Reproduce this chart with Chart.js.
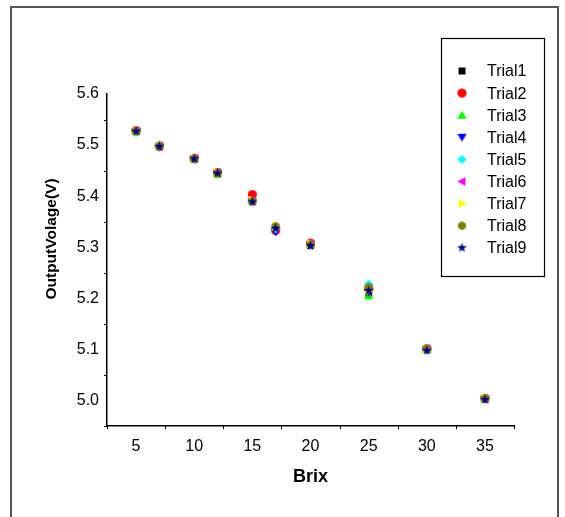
<!DOCTYPE html>
<html><head><meta charset="utf-8">
<script src="https://cdn.jsdelivr.net/npm/chart.js@4/dist/chart.umd.min.js"></script>
<style>html,body{margin:0;padding:0;background:#fff}#wrap{width:565px;height:517px}</style>
</head><body><div id="wrap"><canvas id="c" width="565" height="517"></canvas></div>
<script>
const brix = [5, 7, 10, 12, 15, 17, 20, 25, 30, 35];
const trial1 = [5.527, 5.497, 5.473, 5.445, 5.390, 5.336, 5.304, 5.210, 5.100, 5.003];
const trial2 = [5.528, 5.498, 5.474, 5.446, 5.403, 5.333, 5.308, 5.218, 5.101, 5.004];
const trial3 = [5.528, 5.501, 5.474, 5.443, 5.391, 5.340, 5.306, 5.205, 5.100, 5.005];
const trial4 = [5.526, 5.496, 5.472, 5.444, 5.389, 5.330, 5.304, 5.212, 5.098, 5.002];
const trial5 = [5.525, 5.499, 5.473, 5.445, 5.390, 5.336, 5.305, 5.228, 5.100, 5.004];
const trial6 = [5.528, 5.498, 5.474, 5.446, 5.391, 5.338, 5.306, 5.220, 5.101, 5.003];
const trial7 = [5.527, 5.497, 5.473, 5.445, 5.392, 5.342, 5.307, 5.215, 5.100, 5.005];
const trial8 = [5.527, 5.498, 5.473, 5.445, 5.390, 5.341, 5.305, 5.222, 5.101, 5.004];
const trial9 = [5.527, 5.497, 5.473, 5.445, 5.389, 5.337, 5.303, 5.215, 5.098, 5.002];
const seriesNames = ['Trial1','Trial2','Trial3','Trial4','Trial5','Trial6','Trial7','Trial8','Trial9'];
const seriesValues = [trial1, trial2, trial3, trial4, trial5, trial6, trial7, trial8, trial9];
const seriesColors = ['#000000','#ff0000','#00ff00','#0000ff','#00ffff','#ff00ff','#ffff00','#808000','#000080'];
const seriesShapes = ['square','circle','up','down','diamond','left','right','hexagon','star'];
const xTicks = [5, 10, 15, 20, 25, 30, 35];
const yTicks = [5.0, 5.1, 5.2, 5.3, 5.4, 5.5, 5.6];
const xTitle = 'Brix';
const yTitle = 'OutputVolage(V)';
const FONT = '"Liberation Sans", Arial, sans-serif';

function makeMarker(shape, color) {
  const s = 11, c = document.createElement('canvas');
  c.width = s; c.height = s;
  const g = c.getContext('2d'); const m = s / 2; const r = 4.6;
  g.fillStyle = color; g.beginPath();
  if (shape === 'square') { g.rect(m - 3.5, m - 3.5, 7, 7); }
  else if (shape === 'circle') { g.arc(m, m, r, 0, Math.PI * 2); }
  else if (shape === 'up') { g.moveTo(m, m - r); g.lineTo(m + r, m + r * 0.75); g.lineTo(m - r, m + r * 0.75); }
  else if (shape === 'down') { g.moveTo(m, m + r); g.lineTo(m + r, m - r * 0.75); g.lineTo(m - r, m - r * 0.75); }
  else if (shape === 'left') { g.moveTo(m - r, m); g.lineTo(m + r * 0.75, m - r); g.lineTo(m + r * 0.75, m + r); }
  else if (shape === 'right') { g.moveTo(m + r, m); g.lineTo(m - r * 0.75, m - r); g.lineTo(m - r * 0.75, m + r); }
  else if (shape === 'diamond') { g.moveTo(m, m - r); g.lineTo(m + r, m); g.lineTo(m, m + r); g.lineTo(m - r, m); }
  else if (shape === 'hexagon') { for (let k = 0; k < 6; k++) { const a = Math.PI / 6 + k * Math.PI / 3; g.lineTo(m + r * Math.cos(a), m + r * Math.sin(a)); } }
  else if (shape === 'star') { for (let k = 0; k < 10; k++) { const a = -Math.PI / 2 + k * Math.PI / 5; const rr = k % 2 ? r * 0.45 : r + 0.5; g.lineTo(m + rr * Math.cos(a), m + rr * Math.sin(a)); } }
  g.closePath(); g.fill();
  return c;
}
const markers = seriesShapes.map((s, i) => makeMarker(s, seriesColors[i]));

const datasets = seriesNames.map((name, i) => ({
  label: name,
  data: brix.map((x, j) => ({ x: x, y: seriesValues[i][j] })),
  pointStyle: markers[i],
  pointRadius: 5,
  showLine: false,
  order: seriesNames.length - i
}));

const decor = {
  id: 'decor',
  beforeDraw(chart) {
    const g = chart.ctx;
    g.save(); g.fillStyle = '#fff'; g.fillRect(0, 0, chart.width, chart.height);
    g.strokeStyle = '#555'; g.lineWidth = 2;
    g.strokeRect(11, 7, 547, 530);
    g.restore();
  },
  afterDraw(chart) {
    const g = chart.ctx, xs = chart.scales.x, ys = chart.scales.y;
    const ca = chart.chartArea;
    g.save(); g.strokeStyle = '#000'; g.lineWidth = 1;
    g.beginPath();
    for (let v = 2.5; v <= 37.51; v += 5) { const px = Math.round(xs.getPixelForValue(v)) + 0.5; g.moveTo(px, ca.bottom); g.lineTo(px, ca.bottom + 3); }
    for (let v = 4.95; v <= 5.56; v += 0.1) { const py = Math.round(ys.getPixelForValue(v)) + 0.5; g.moveTo(ca.left, py); g.lineTo(ca.left - 3, py); }
    g.stroke();
    // y axis title
    g.save();
    g.translate(52, 239); g.rotate(-Math.PI / 2);
    g.font = 'bold 15.5px ' + FONT; g.fillStyle = '#000';
    g.textAlign = 'center'; g.textBaseline = 'middle';
    g.fillText(yTitle, 0, 0);
    g.restore();
    // legend
    const lx = 441, ly = 38, lw = 103, lh = 238;
    g.strokeStyle = '#000'; g.lineWidth = 1.2;
    g.strokeRect(lx + 0.5, ly + 0.5, lw, lh);
    g.font = '16px ' + FONT;
    g.fillStyle = '#000'; g.textBaseline = 'middle'; g.textAlign = 'left';
    chart.data.datasets.forEach((d, i) => {
      const y = 71 + i * 22.1;
      g.drawImage(d.pointStyle, 462 - 5.5, y - 5.5);
      g.fillText(d.label, 487, y + 1);
    });
    g.restore();
  }
};

new Chart(document.getElementById('c'), {
  type: 'scatter',
  data: { datasets: datasets },
  options: {
    responsive: false, animation: false, devicePixelRatio: 1,
    layout: { padding: { top: 94, right: 51, left: 0, bottom: 0 } },
    plugins: { legend: { display: false }, tooltip: { enabled: false } },
    scales: {
      x: {
        type: 'linear', min: 2.5, max: 37.5,
        afterBuildTicks: s => { s.ticks = xTicks.map(v => ({ value: v })); },
        afterFit: s => { s.height = 91; },
        grid: { display: false, drawOnChartArea: false, drawTicks: true, tickLength: 5, tickColor: '#000' },
        border: { display: true, color: '#000', width: 1.5 },
        ticks: { color: '#000', font: { size: 16, family: FONT }, padding: 6, maxRotation: 0 },
        title: { display: true, text: xTitle, color: '#000', font: { size: 18, weight: 'bold', family: FONT }, padding: { top: 0, bottom: 29 } }
      },
      y: {
        type: 'linear', min: 4.95, max: 5.6,
        afterBuildTicks: s => { s.ticks = yTicks.map(v => ({ value: v })); },
        afterFit: s => { s.width = 107; },
        grid: { display: false, drawOnChartArea: false, drawTicks: true, tickLength: 5, tickColor: '#000' },
        border: { display: true, color: '#000', width: 1.5 },
        ticks: { color: '#000', font: { size: 16, family: FONT }, padding: 3, callback: v => v.toFixed(1) },
        title: { display: false, text: yTitle }
      }
    }
  },
  plugins: [decor]
});
</script></body></html>
